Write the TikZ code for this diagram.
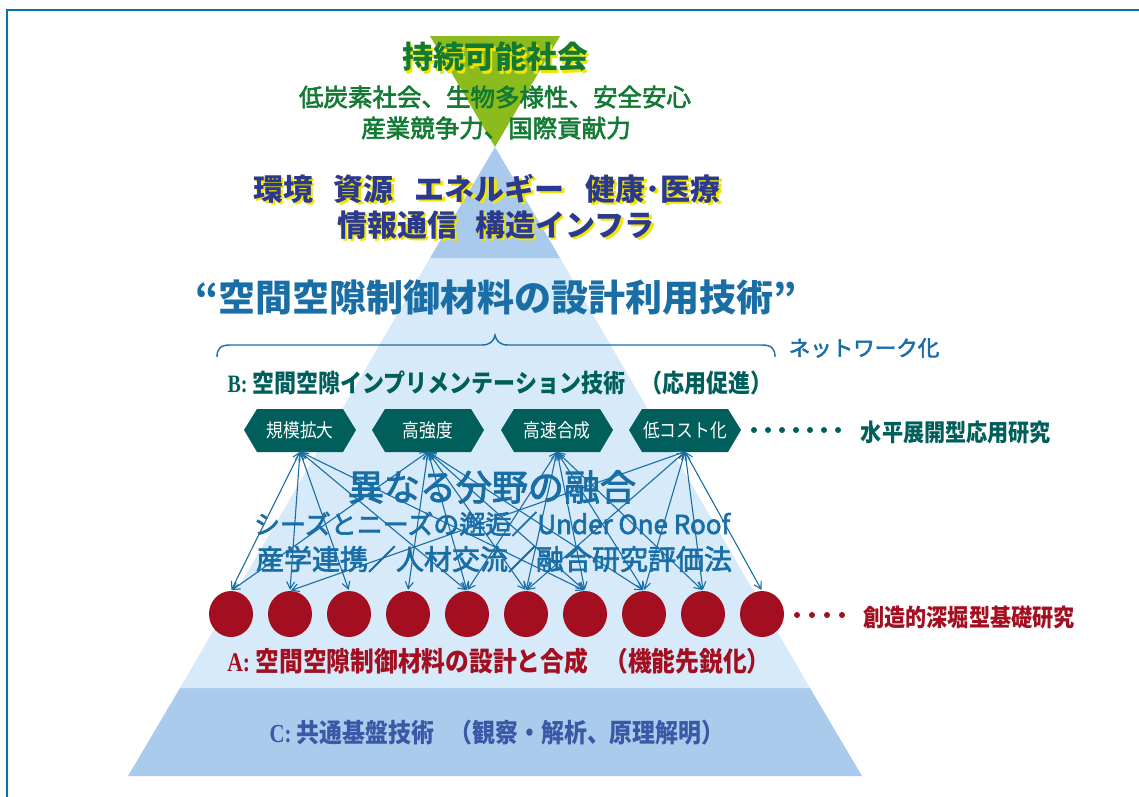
\documentclass[tikz,border=0pt]{standalone}
\usepackage{fontspec}
\setmainfont{Noto Sans CJK JP}
\newfontfamily\jpcond[FakeStretch=0.88]{Noto Sans CJK JP}
\newfontfamily\jpmed[FakeBold=2.5]{Noto Sans CJK JP}
\newfontfamily\latcond[FakeStretch=0.8]{Liberation Serif}
\usetikzlibrary{shapes.geometric,arrows.meta}
\definecolor{frameblue}{HTML}{0077AA}
\definecolor{leafgreen}{HTML}{8CBB1E}
\definecolor{midblue}{HTML}{A9CAEC}
\definecolor{paleblue}{HTML}{D6EAF9}
\definecolor{basblue}{HTML}{ABCBED}
\definecolor{titlegreen}{HTML}{127A32}
\definecolor{shadowyellow}{HTML}{F2E600}
\definecolor{navyblue}{HTML}{2B3A8F}
\definecolor{textblue}{HTML}{1A6EA6}
\definecolor{tealgreen}{HTML}{005F5A}
\definecolor{darkred}{HTML}{A30F20}
\definecolor{cblue}{HTML}{3A58A6}
\newcommand{\yshadow}[1]{\rlap{\hspace{2.5pt}\raisebox{-2.5pt}{\textcolor{shadowyellow}{#1}}}#1}
\tikzset{
  txt/.style={inner sep=0pt, anchor=center},
  hexlabel/.style={txt, minimum height=43pt, text=white, font=\jpcond\fontsize{19}{19}\selectfont},
  redball/.style={ellipse, fill=darkred, minimum width=44pt, minimum height=46pt, inner sep=0pt},
  link/.style={draw=textblue, line width=1.1pt, shorten >=1pt,
    {Straight Barb[length=7pt,width=8pt]}-{Straight Barb[length=7pt,width=8pt]}},
}
\begin{document}
\begin{tikzpicture}[x=1pt,y=-1pt]
\useasboundingbox (0,0) rectangle (1139,796);
% frame
\draw[frameblue, line width=2.5pt] (7,797) -- (7,10) -- (1140,10);
% pyramid
\fill[basblue] (180,688) -- (810,688) -- (862,776) -- (128,776) -- cycle;
\fill[paleblue] (430,258) -- (560,258) -- (810,688) -- (180,688) -- cycle;
\fill[midblue] (495,147) -- (560,258) -- (430,258) -- cycle;
\fill[leafgreen] (430,36) -- (560,36) -- (495,147) -- cycle;
% hexagons
\foreach \i/\x in {1/300,2/428,3/557,4/685}{
  \fill[tealgreen] (\x-56,430) -- (\x-43,409) -- (\x+43,409) -- (\x+56,430) -- (\x+43,452) -- (\x-43,452) -- cycle;
}
\node[hexlabel] (h1) at (300,430) {規模拡大};
\node[hexlabel] (h2) at (428,430) {高強度};
\node[hexlabel] (h3) at (557,430) {高速合成};
\node[hexlabel] (h4) at (685,430) {低コスト化};
% circles
\foreach \i in {1,...,10}{
  \node[redball] (c\i) at ({231+59*(\i-1)},614) {};
}
% links
\foreach \h/\c in {1/1,1/2,1/3,1/5,1/7,2/1,2/4,2/5,2/6,2/7,2/8,3/5,3/6,3/7,3/8,3/9,4/2,4/6,4/8,4/9,4/10}{
  \draw[link] (h\h.south) -- (c\c.north);
}
% dots
\foreach \k in {0,...,6}{ \fill[tealgreen] ({754+14*\k},430) circle (3); }
\foreach \k in {0,...,3}{ \fill[darkred] ({797+15*\k},615) circle (3); }
% brace
\draw[textblue, line width=1.4pt] (217,357) .. controls (217,349) and (220,345) .. (230,345) -- (482,345) .. controls (490,345) and (494,341) .. (495,335) .. controls (496,341) and (500,345) .. (508,345) -- (762,345) .. controls (772,345) and (775,349) .. (775,357);
% top texts
\node[txt, text=titlegreen, font=\bfseries\fontsize{31}{31}\selectfont] (t1) at (495,58) {\yshadow{持続可能社会}};
\node[txt, text=titlegreen, font=\jpmed\fontsize{24.5}{24.5}\selectfont] (t2) at (495,97) {低炭素社会、生物多様性、安全安心};
\node[txt, text=titlegreen, font=\jpmed\fontsize{24.5}{24.5}\selectfont] (t3) at (496,128) {産業競争力、国際貢献力};
\node[txt, text=navyblue, font=\bfseries\fontsize{30}{30}\selectfont] (t4) at (487,190) {\yshadow{環境\hspace{0.7em}資源\hspace{0.7em}エネルギー\hspace{0.7em}健康･医療}};
\node[txt, text=navyblue, font=\bfseries\fontsize{30}{30}\selectfont] (t5) at (496,226) {\yshadow{情報通信\hspace{0.6em}構造インフラ}};
\node[txt, text=textblue, font=\bfseries\fontsize{37}{37}\selectfont] (t6) at (496,298) {“空間空隙制御材料の設計利用技術”};
\node[txt, text=textblue, font=\jpmed\fontsize{21.5}{21.5}\selectfont] (t7) at (864,348) {ネットワーク化};
\node[txt, text=tealgreen, font=\jpcond\bfseries\fontsize{25}{25}\selectfont] (t8) at (500,383) {{\latcond B:} 空間空隙インプリメンテーション技術\hspace{0.6em}（応用促進）};
\node[txt, text=tealgreen, font=\jpcond\bfseries\fontsize{24}{24}\selectfont] (t9) at (956,432) {水平展開型応用研究};
\node[txt, text=textblue, font=\jpmed\fontsize{36}{36}\selectfont] (t10) at (492,487) {異なる分野の融合};
\node[txt, text=textblue, font=\jpmed\fontsize{26}{26}\selectfont] (t11) at (492,524) {シーズとニーズの邂逅／Under One Roof};
\node[txt, text=textblue, font=\jpmed\fontsize{28}{28}\selectfont] (t12) at (494,559) {産学連携／人材交流／融合研究評価法};
\node[txt, text=darkred, font=\jpcond\bfseries\fontsize{24}{24}\selectfont] (t13) at (969,617) {創造的深堀型基礎研究};
\node[txt, text=darkred, font=\jpcond\bfseries\fontsize{27}{27}\selectfont] (t14) at (499,661) {{\latcond A:} 空間空隙制御材料の設計と合成\hspace{0.6em}（機能先鋭化）};
\node[txt, text=cblue, font=\jpcond\bfseries\fontsize{26}{26}\selectfont] (t15) at (497,733) {{\latcond C:} 共通基盤技術\hspace{0.6em}（観察・解析、原理解明）};
\end{tikzpicture}
\end{document}
